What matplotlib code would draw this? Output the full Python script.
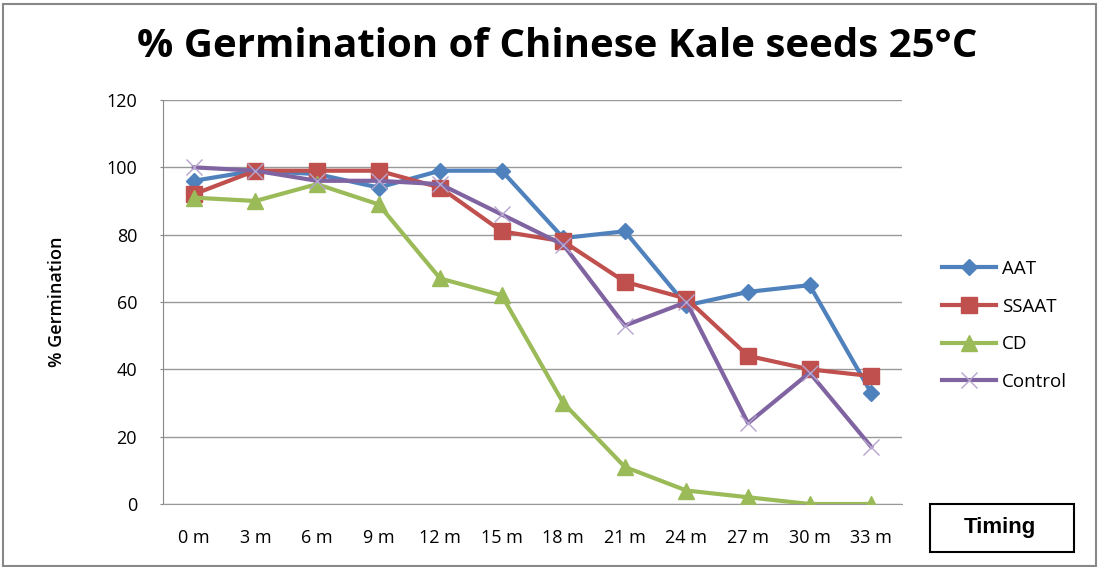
import matplotlib
matplotlib.use("Agg")
import matplotlib.pyplot as plt
from matplotlib.patches import Rectangle

categories = ["0 m", "3 m", "6 m", "9 m", "12 m", "15 m", "18 m", "21 m", "24 m", "27 m", "30 m", "33 m"]
aat = [96, 99, 98, 94, 99, 99, 79, 81, 59, 63, 65, 33]
ssaat = [92, 99, 99, 99, 94, 81, 78, 66, 61, 44, 40, 38]
cd = [91, 90, 95, 89, 67, 62, 30, 11, 4, 2, 0, 0]
control = [100, 99, 96, 96, 95, 86, 77, 53, 60, 24, 39, 17]
yticks = [0, 20, 40, 60, 80, 100, 120]

plt.rcParams['font.family'] = ['Open Sans', 'DejaVu Sans']

fig = plt.figure(figsize=(10.99, 5.67), dpi=100)
ax = fig.add_axes([163/1099, 1-504/567, (902-163)/1099, (504-100)/567])

x = list(range(len(categories)))
ax.plot(x, aat, color='#4F81BD', lw=3, marker='D', ms=8, label='AAT', zorder=3)
ax.plot(x, ssaat, color='#C0504D', lw=3, marker='s', ms=11, label='SSAAT', zorder=3)
ax.plot(x, cd, color='#9BBB59', lw=3, marker='^', ms=11, label='CD', zorder=3)
ax.plot(x, control, color='#8064A2', lw=3, marker='x', ms=11, mew=1,
        markeredgecolor='#B7A5CF', label='Control', zorder=3)

ax.set_xlim(-0.5, len(categories) - 0.5)
ax.set_ylim(0, 120)
ax.set_yticks(yticks)
ax.set_yticklabels([str(t) for t in yticks], fontsize=13)
ax.set_xticks(x)
ax.set_xticklabels(categories, fontsize=13)
ax.tick_params(axis='x', length=0, pad=18)
ax.tick_params(axis='y', length=2.2, color='#888888', pad=16.5)
ax.grid(axis='y', color='#999999', lw=1)
ax.set_axisbelow(True)
for s in ['top', 'right']:
    ax.spines[s].set_visible(False)
ax.spines['left'].set_color('#888888')
ax.spines['bottom'].set_color('#999999')

ax.set_ylabel('% Germination', fontsize=13, fontweight='semibold', labelpad=29)

fig.text(0.507, 0.918, '% Germination of Chinese Kale seeds 25°C', ha='center', va='center',
         fontsize=29, fontweight='bold')

leg = fig.legend(loc='center left', bbox_to_anchor=(0.8416, 0.426), frameon=False,
                 fontsize=13.5, handlelength=2.9, labelspacing=1.05, handletextpad=0.3)

# Timing box
fig.patches.append(Rectangle((930/1099, 1-552/567), 144/1099, 48/567, transform=fig.transFigure,
                             fill=False, edgecolor='black', lw=1.5))
fig.text(1000/1099, 1-528/567, 'Timing', ha='center', va='center', fontsize=16,
         fontweight='bold', family=['Liberation Sans', 'DejaVu Sans'])

# outer border
fig.patches.append(Rectangle((3/1099, 0.002), 1093/1099, 1-5/567, transform=fig.transFigure,
                             fill=False, edgecolor='#888888', lw=1.5))

fig.savefig('out.png', dpi=100)
